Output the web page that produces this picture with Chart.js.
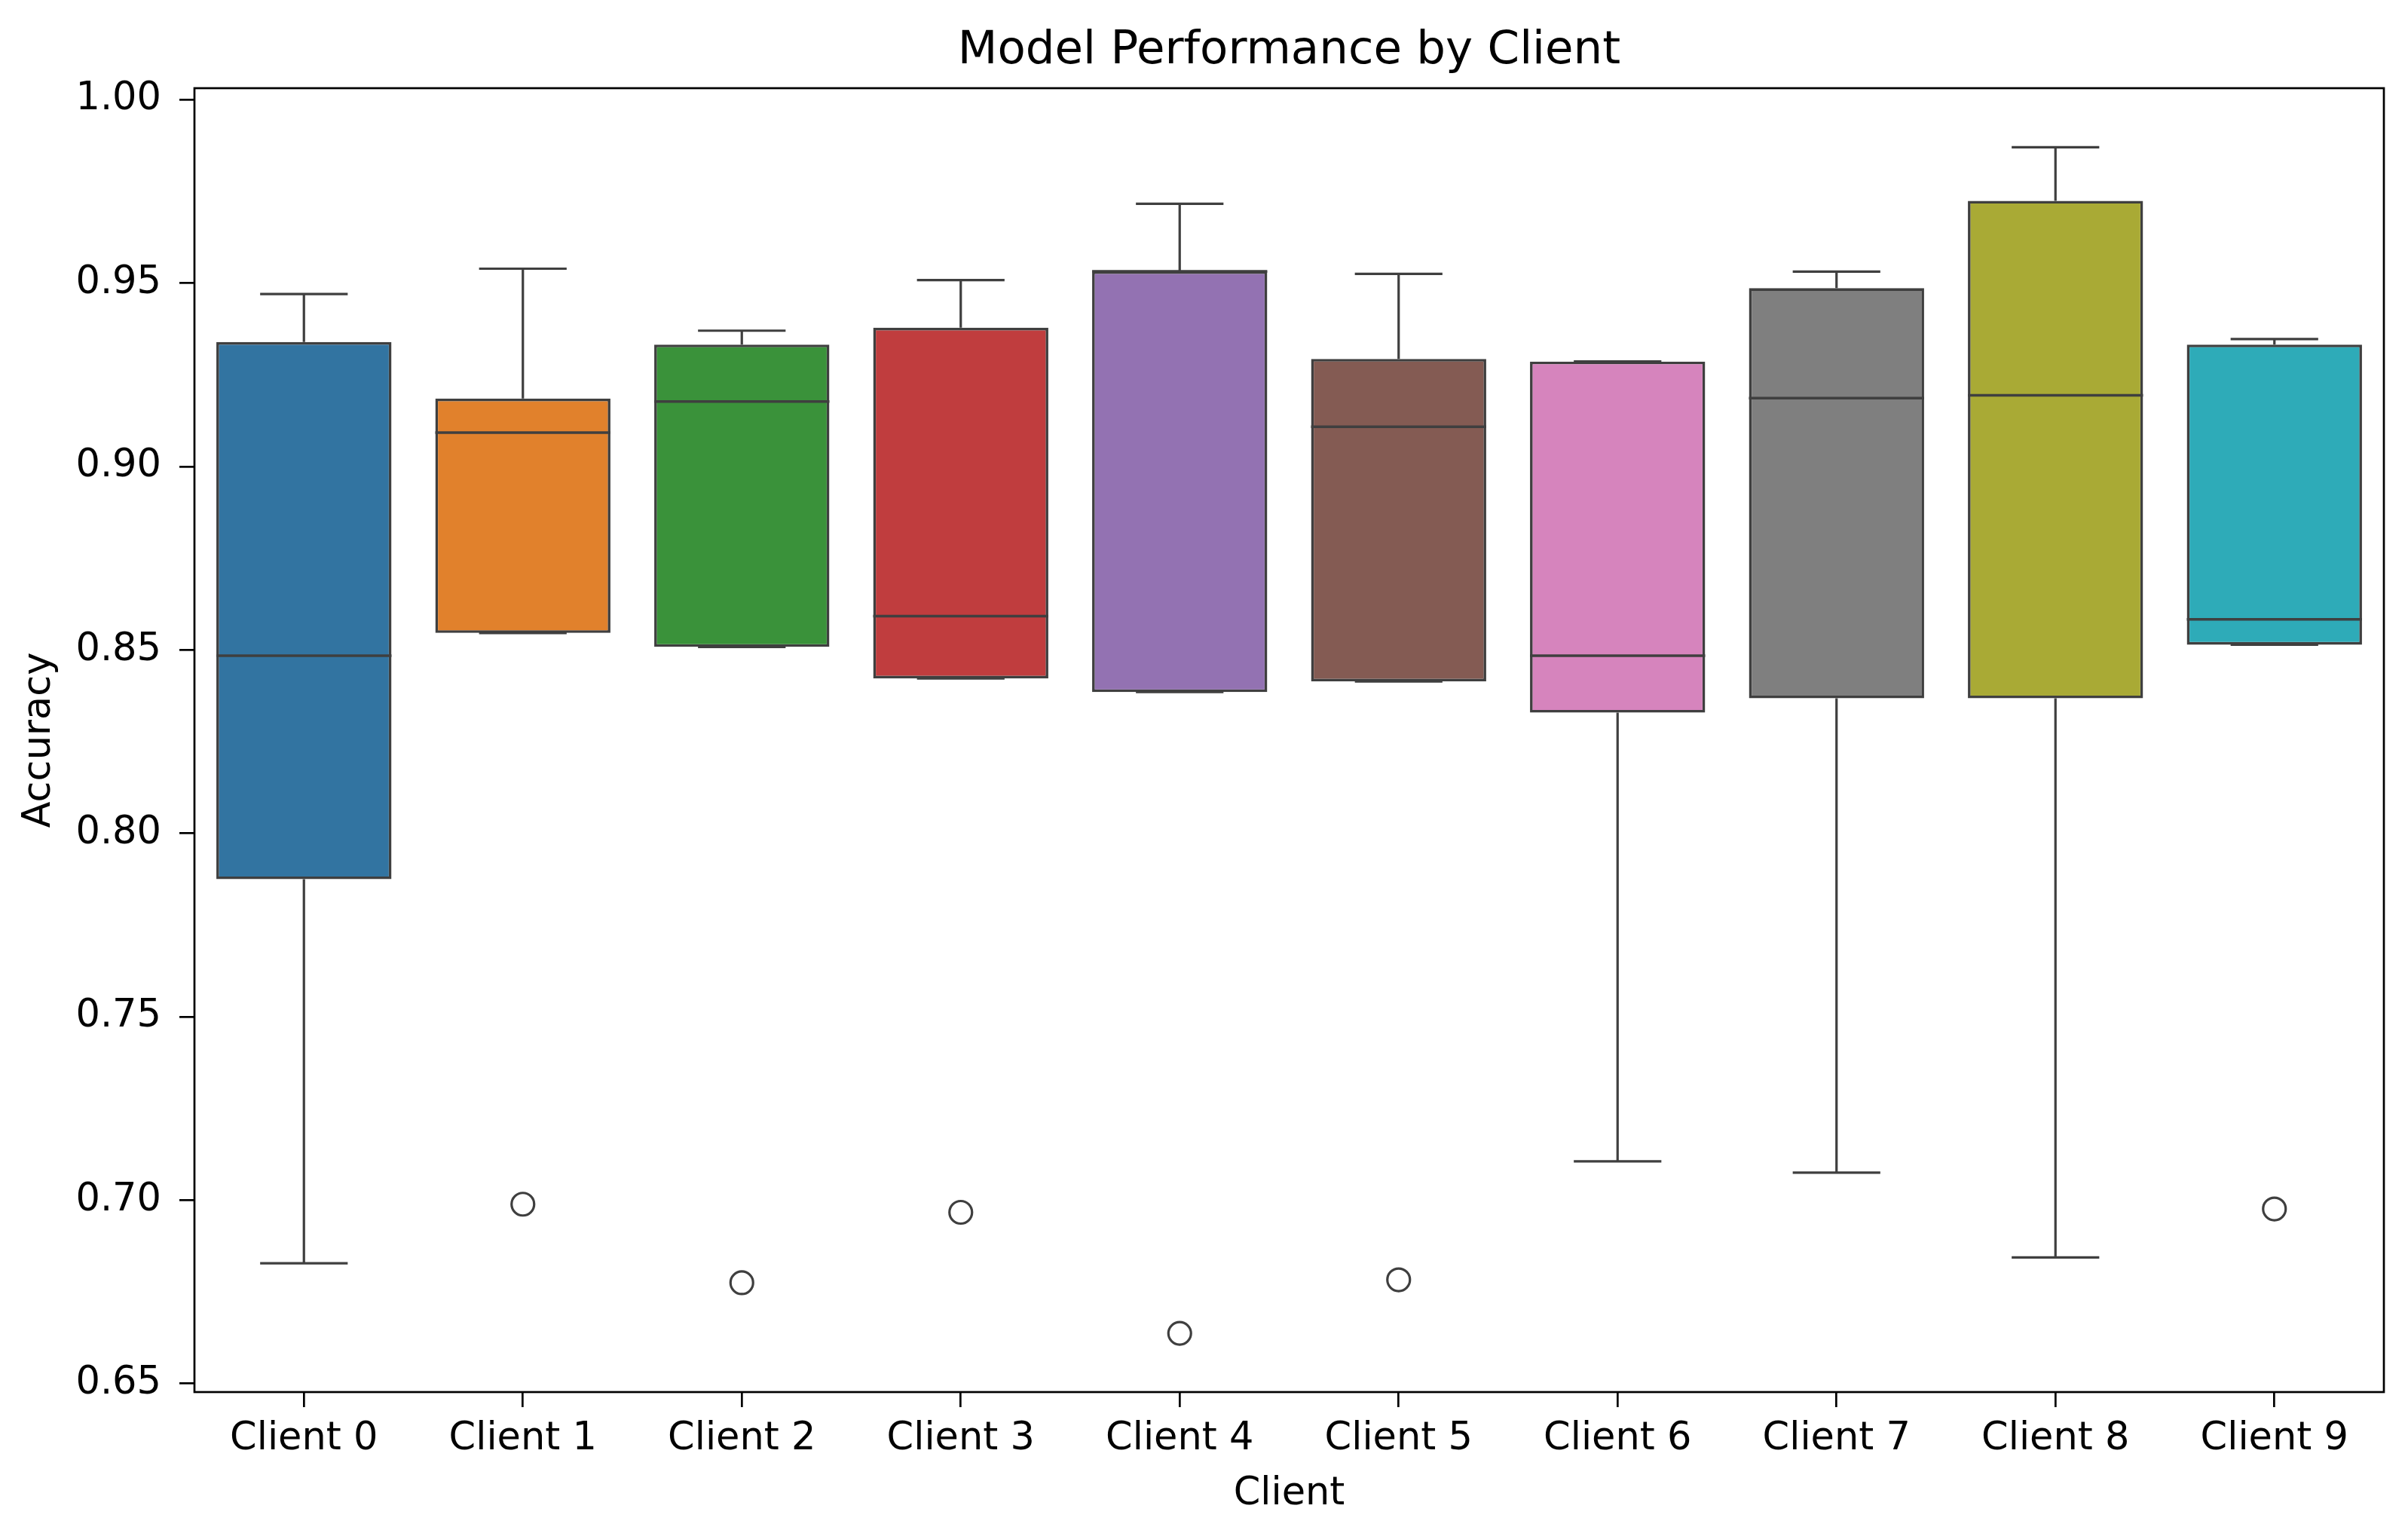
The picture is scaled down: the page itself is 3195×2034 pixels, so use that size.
<!DOCTYPE html>
<html>
<head>
<meta charset="utf-8">
<script src="https://cdn.jsdelivr.net/npm/chart.js@4.4.1/dist/chart.umd.min.js"></script>
<style>
  html, body { margin: 0; padding: 0; background: #ffffff; }
  canvas { display: block; }
</style>
</head>
<body>
<canvas id="chart" width="3195" height="2034"></canvas>
<script>
// Box statistics, one entry per client.
const clients = ['Client 0', 'Client 1', 'Client 2', 'Client 3', 'Client 4',
                 'Client 5', 'Client 6', 'Client 7', 'Client 8', 'Client 9'];
const whiskerLow  = [0.6828, 0.8546, 0.8508, 0.8422, 0.8385, 0.8414, 0.7106, 0.7075, 0.6844, 0.8514];
const q1          = [0.7875, 0.8546, 0.8508, 0.8422, 0.8385, 0.8414, 0.8329, 0.8368, 0.8368, 0.8514];
const median      = [0.8484, 0.9092, 0.9177, 0.8592, 0.9532, 0.9108, 0.8484, 0.9186, 0.9194, 0.8583];
const q3          = [0.9339, 0.9185, 0.9332, 0.9378, 0.9532, 0.9293, 0.9286, 0.9486, 0.9724, 0.9332];
const whiskerHigh = [0.9470, 0.9539, 0.9370, 0.9508, 0.9716, 0.9525, 0.9286, 0.9531, 0.9870, 0.9347];
const outliers    = [null, 0.6989, 0.6775, 0.6967, 0.6637, 0.6783, null, null, null, 0.6976];
const yTicks = [0.65, 0.70, 0.75, 0.80, 0.85, 0.90, 0.95, 1.00];
const chartTitle = 'Model Performance by Client';

// seaborn default palette (tab10 at 0.75 saturation)
const palette = ['#3274a1', '#e1812c', '#3a923a', '#c03d3e', '#9372b2',
                 '#845b53', '#d684bd', '#7f7f7f', '#a9aa35', '#2eabb8'];
const lineColor = '#3f3f3f';
const fontFamily = '"DejaVu Sans", sans-serif';

// draws whiskers, caps, medians, the axes frame and the title using the chart scales
const boxPlot = {
  id: 'boxPlot',
  beforeDatasetsDraw(chart) {
    const ctx = chart.ctx;
    const x = chart.scales.x, y = chart.scales.y;
    const bars = chart.getDatasetMeta(0).data;
    ctx.save();
    ctx.strokeStyle = lineColor;
    ctx.lineWidth = 3.2;
    clients.forEach((c, i) => {
      const cx = x.getPixelForValue(i);
      const capHalf = bars[i].width / 4;
      const lo = y.getPixelForValue(whiskerLow[i]);
      const hi = y.getPixelForValue(whiskerHigh[i]);
      ctx.beginPath();
      ctx.moveTo(cx, y.getPixelForValue(q1[i]));
      ctx.lineTo(cx, lo);
      ctx.moveTo(cx, y.getPixelForValue(q3[i]));
      ctx.lineTo(cx, hi);
      ctx.moveTo(cx - capHalf, lo);
      ctx.lineTo(cx + capHalf, lo);
      ctx.moveTo(cx - capHalf, hi);
      ctx.lineTo(cx + capHalf, hi);
      ctx.stroke();
    });
    ctx.restore();
  },
  afterDatasetsDraw(chart) {
    const ctx = chart.ctx;
    const x = chart.scales.x, y = chart.scales.y;
    const bars = chart.getDatasetMeta(0).data;
    ctx.save();
    ctx.strokeStyle = lineColor;
    ctx.lineWidth = 3.5;
    clients.forEach((c, i) => {
      const cx = x.getPixelForValue(i);
      const half = bars[i].width / 2;
      const my = y.getPixelForValue(median[i]);
      ctx.beginPath();
      ctx.moveTo(cx - half, my);
      ctx.lineTo(cx + half, my);
      ctx.stroke();
    });
    const a = chart.chartArea;
    ctx.strokeStyle = '#000000';
    ctx.lineWidth = 2.7;
    ctx.strokeRect(a.left, a.top, a.right - a.left, a.bottom - a.top);
    ctx.fillStyle = '#000000';
    ctx.font = '61px ' + fontFamily;
    ctx.textAlign = 'center';
    ctx.textBaseline = 'middle';
    ctx.fillText(chartTitle, (a.left + a.right) / 2, 68);
    ctx.restore();
  }
};

new Chart(document.getElementById('chart'), {
  type: 'bar',
  data: {
    labels: clients,
    datasets: [
      {
        label: 'box',
        data: clients.map((c, i) => [q1[i], q3[i]]),
        backgroundColor: palette,
        borderColor: lineColor,
        borderWidth: 3.6,
        borderSkipped: false,
        barPercentage: 0.8,
        categoryPercentage: 1.0
      },
      {
        type: 'line',
        label: 'outliers',
        data: outliers,
        showLine: false,
        pointStyle: 'circle',
        pointRadius: 15,
        pointBorderWidth: 3.2,
        pointBorderColor: lineColor,
        pointBackgroundColor: 'rgba(0,0,0,0)'
      }
    ]
  },
  options: {
    responsive: false,
    devicePixelRatio: 1,
    animation: false,
    layout: { padding: { left: 0, right: 32, top: 117, bottom: 0 } },
    plugins: {
      legend: { display: false },
      tooltip: { enabled: false },
      title: { display: false }
    },
    scales: {
      x: {
        offset: true,
        grid: {
          offset: false,
          drawOnChartArea: false,
          drawTicks: true,
          tickLength: 20,
          tickWidth: 2.7,
          tickColor: '#000000',
          lineWidth: 2.7,
          color: '#000000'
        },
        border: { display: false },
        ticks: {
          color: '#000000',
          padding: 12,
          maxRotation: 0,
          font: { family: fontFamily, size: 51 }
        },
        title: {
          display: true,
          text: 'Client',
          color: '#000000',
          font: { family: fontFamily, size: 51, lineHeight: 1.2 },
          padding: { top: 0, bottom: 21 }
        },
        afterFit(scale) { scale.height = 187; }
      },
      y: {
        min: 0.6477,
        max: 1.0031,
        grid: {
          drawOnChartArea: false,
          drawTicks: true,
          tickLength: 20,
          tickWidth: 2.7,
          tickColor: '#000000',
          lineWidth: 2.7,
          color: '#000000'
        },
        border: { display: false },
        afterBuildTicks(scale) { scale.ticks = yTicks.map(v => ({ value: v })); },
        ticks: {
          color: '#000000',
          padding: 24,
          font: { family: fontFamily, size: 51 },
          callback: v => Number(v).toFixed(2)
        },
        title: {
          display: true,
          text: 'Accuracy',
          color: '#000000',
          font: { family: fontFamily, size: 51, lineHeight: 1.2 },
          padding: { top: 22, bottom: 0 }
        },
        afterFit(scale) { scale.width = 258; }
      }
    }
  },
  plugins: [boxPlot]
});
</script>
</body>
</html>
